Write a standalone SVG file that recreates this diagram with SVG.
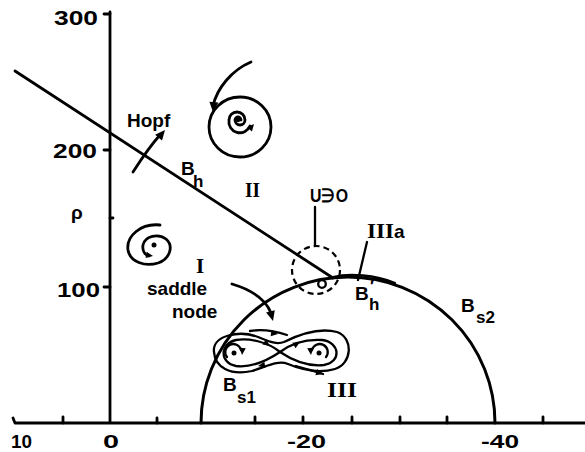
<svg xmlns="http://www.w3.org/2000/svg" xmlns:xlink="http://www.w3.org/1999/xlink" width="585" height="452" viewBox="0 0 585 452">
<style>
.ln{fill:none;stroke:#000;stroke-width:2.8;stroke-linecap:round;stroke-linejoin:round}
.th{fill:none;stroke:#000;stroke-width:2.3;stroke-linecap:round;stroke-linejoin:round}
.ds{fill:none;stroke:#000;stroke-width:2.2;stroke-dasharray:6 4}
.num{font-family:"Liberation Sans",Arial,sans-serif;font-weight:bold;font-size:20px;fill:#000}
.lb{font-family:"Liberation Sans",Arial,sans-serif;font-weight:bold;font-size:19px;fill:#000}
.sub{font-family:"Liberation Sans",Arial,sans-serif;font-weight:bold;font-size:17px;fill:#000}
.rom{font-family:"Liberation Serif","Times New Roman",serif;font-weight:bold;font-size:21px;fill:#000}
</style>
<defs>
<path id="ah" d="M0,0 L-10,-4.5 L-10,4.5 Z" fill="#000"/>
<path id="ahs" d="M0,0 L-7,-3.2 L-7,3.2 Z" fill="#000"/>
</defs>
<rect width="585" height="452" fill="#fff"/>
<g id="axes">
<path class="ln" d="M110,12 L110,423 M13,418 L15,423 L585,423"/>
<path class="ln" d="M104,14 L110,14 M104,150 L110,150 M104,287 L110,287 M110,218 L113,218"/>
<path class="ln" d="M63,423 L63,417 M157,423 L157,418 M255,423 L255,417 M303,423 L303,417 M352,423 L352,417 M400,423 L400,417 M447,423 L447,417 M543,423 L543,417"/>
<text class="num" x="54" y="25" textLength="44" lengthAdjust="spacingAndGlyphs">300</text>
<text class="num" x="53" y="158" textLength="44" lengthAdjust="spacingAndGlyphs">200</text>
<text class="num" x="57" y="297" textLength="43" lengthAdjust="spacingAndGlyphs">100</text>
<text class="num" x="11" y="448" textLength="21" lengthAdjust="spacingAndGlyphs" style="font-size:18px">10</text>
<text class="num" x="103" y="448" textLength="16" lengthAdjust="spacingAndGlyphs" style="font-size:18px">0</text>
<text class="num" x="287" y="448" textLength="39" lengthAdjust="spacingAndGlyphs" style="font-size:18px">-20</text>
<text class="num" x="481" y="448" textLength="38" lengthAdjust="spacingAndGlyphs" style="font-size:18px">-40</text>
<text class="lb" x="77" y="219" text-anchor="middle">ρ</text>
</g>
<g id="curves">
<path id="Bh" class="ln" d="M15,71 L333,278"/>
<path id="Bs" class="ln" style="stroke-width:3" d="M201,423 A147,146 0 0 1 495,423"/>
<path id="Bhp" class="th" d="M333,277 C350,273 375,275 395,283"/>
<circle id="O" cx="322" cy="284" r="3.8" class="th"/>
<circle id="U" cx="316" cy="270" r="24" class="ds"/>
<path class="th" d="M315,246 L315,207"/>
<path class="th" d="M367,242 L358,280"/>
</g>
<g id="hopf">
<path class="ln" d="M133,172 C142,158 150,146 160,135"/>
<use xlink:href="#ah" transform="translate(165,130) rotate(-50)"/>
</g>
<g id="spiral-II">
<path class="ln" d="M251,62 C232,70 217,88 213,106"/>
<use xlink:href="#ah" transform="translate(213,112) rotate(95)"/>
<ellipse cx="240" cy="127" rx="31" ry="30" class="ln"/>
<circle cx="238" cy="120" r="2.2" fill="#000"/>
<path class="ln" d="M241,120 A3,3 0 0 0 235,120 A5,5 0 0 0 245,120 A8,8 0 0 0 229,120 A11,11 0 0 0 250,126"/>
<use xlink:href="#ahs" transform="translate(254,124) rotate(-50)"/>
</g>
<g id="spiral-I">
<path class="ln" d="M160,225 C141,223 126,236 128,250 C130,262 145,267 158,263 C170,259 174,246 166,239 C158,233 145,236 143,245 C142,251 145,255 149,256"/>
<circle cx="154" cy="245" r="2.5" fill="#000"/>
<use xlink:href="#ahs" transform="translate(153,256) rotate(10)"/>
</g>
<g id="saddle-arrow">
<path class="ln" d="M232,284 C252,290 266,300 271,313"/>
<use xlink:href="#ah" transform="translate(273,321) rotate(75)"/>
</g>
<g id="saddle-node-complex">
<path class="th" d="M214,352 C212,335 240,330 258,337 C268,341 276,345 284,342 C298,335 318,327 337,332 C354,338 352,364 335,369 C318,374 300,369 288,364 C278,360 268,366 252,371 C230,376 215,367 214,352 Z"/>
<path class="th" d="M280,352 C268,342 250,338 236,340 C220,343 219,363 236,366 C252,368 268,360 280,352"/>
<path class="th" d="M280,352 C292,343 306,339 322,340 C340,342 342,362 324,365 C306,367 292,360 280,352"/>
<path class="th" d="M250,331 C262,329 275,331 287,335"/>
<path class="th" d="M296,366 C305,369 315,371 323,374"/>
<path class="th" d="M227,357 A8,8 0 1 1 241,350"/>
<path class="th" d="M326,357 A8,8 0 1 0 312,350"/>
<circle cx="234" cy="353" r="2.5" fill="#000"/>
<circle cx="319" cy="353" r="2.5" fill="#000"/>
<use xlink:href="#ahs" transform="translate(278,334) rotate(8)"/>
<use xlink:href="#ahs" transform="translate(270,346) rotate(35)"/>
<use xlink:href="#ahs" transform="translate(300,342) rotate(-30)"/>
<use xlink:href="#ahs" transform="translate(258,366) rotate(170)"/>
<use xlink:href="#ahs" transform="translate(323,374) rotate(15)"/>
<use xlink:href="#ahs" transform="translate(242,355) rotate(95)"/>
<use xlink:href="#ahs" transform="translate(311,355) rotate(85)"/>
</g>
<g id="labels">
<text class="lb" x="127" y="127">Hopf</text>
<text class="lb" x="181" y="175">B</text><text class="sub" x="193" y="187">h</text>
<text class="rom" x="245" y="197" textLength="15" lengthAdjust="spacingAndGlyphs">II</text>
<text class="rom" x="196" y="273">I</text>
<text class="lb" x="147" y="295">saddle</text>
<text class="lb" x="172" y="318">node</text>
<text class="lb" x="310" y="202" textLength="38" lengthAdjust="spacingAndGlyphs">U∋O</text>
<text class="rom" x="367" y="238"><tspan textLength="27" lengthAdjust="spacingAndGlyphs">III</tspan><tspan style="font-family:'Liberation Sans',Arial,sans-serif;font-size:19px">a</tspan></text>
<text class="lb" x="355" y="300">B</text><text class="sub" x="370" y="292">′</text><text class="sub" x="369" y="310">h</text>
<text class="lb" x="461" y="312">B</text><text class="sub" x="476" y="323">s2</text>
<text class="lb" x="223" y="391">B</text><text class="sub" x="237" y="403">s1</text>
<text class="rom" x="327" y="397" textLength="30" lengthAdjust="spacingAndGlyphs">III</text>
</g>
</svg>
